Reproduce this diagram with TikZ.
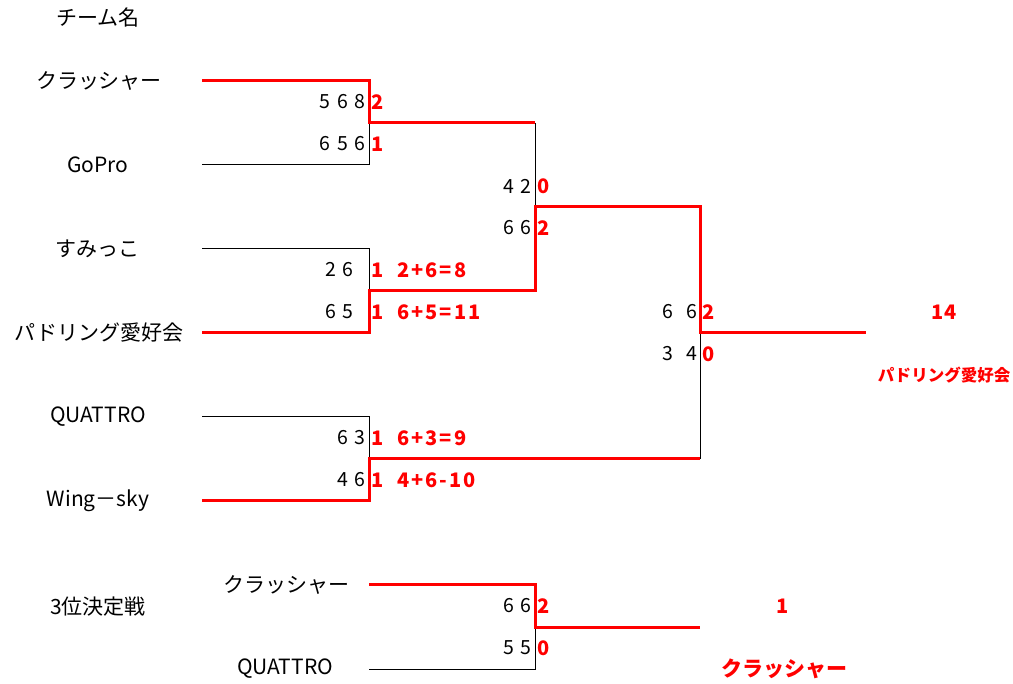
\documentclass[tikz,border=0pt]{standalone}
\usepackage{fontspec}
\setmainfont{Noto Sans CJK JP}
\newcommand\myscorefont{\fontsize{19.5}{22}\selectfont\spaceskip 7pt\relax}
\newcommand\myresfont{\fontsize{20}{22}\selectfont\bfseries\addfontfeatures{LetterSpace=10}\spaceskip 7pt\relax}
\begin{document}
\begin{tikzpicture}[x=1pt,y=-1pt,
  win/.style={draw=red, line width=3pt, line join=miter},
  lose/.style={draw=black, line width=1pt},
  team/.style={font=\fontsize{21}{24}\selectfont, inner sep=0pt},
  score/.style={font=\myscorefont, anchor=east, inner sep=0pt},
  res/.style={font=\myresfont, text=red, anchor=west, inner sep=0pt},
  big/.style={font=\fontsize{20}{24}\selectfont\bfseries, text=red, inner sep=0pt},
  small/.style={font=\fontsize{16.5}{20}\selectfont\bfseries, text=red, inner sep=0pt},
]
\useasboundingbox (0,0) rectangle (1013,684);

% headings and teams
\node[team] (head) at (98,18) {チーム名};
\node[team] (t1) at (99,81) {クラッシャー};
\node[team] (t2) at (98,165) {GoPro};
\node[team] (t3) at (98,249) {すみっこ};
\node[team] (t4) at (99,333) {パドリング愛好会};
\node[team] (t5) at (98,417) {QUATTRO};
\node[team] (t6) at (98,501) {Wing－sky};
\node[team] (third) at (98,607) {3位決定戦};
\node[team] (b1) at (286,585) {クラッシャー};
\node[team] (b2) at (285,669) {QUATTRO};

% bracket coordinates
\coordinate (s1) at (202,81);  \coordinate (s2) at (202,165);
\coordinate (s3) at (202,249); \coordinate (s4) at (202,333);
\coordinate (s5) at (202,417); \coordinate (s6) at (202,501);
\coordinate (m1) at (369,123); \coordinate (m2) at (369,291); \coordinate (m3) at (369,459);
\coordinate (q1) at (535,207);
\coordinate (f1) at (700,333);
\coordinate (fe) at (866,333);
\coordinate (u1) at (369,585); \coordinate (u2) at (369,669);
\coordinate (um) at (535,627); \coordinate (ue) at (700,627);

% losing lines (black)
\draw[lose] (s2) -| (m1);
\draw[lose] (s3) -| (m2);
\draw[lose] (s5) -| (m3);
\draw[lose] (m1 -| q1) -- (q1);
\draw[lose] (m3 -| f1) -- (f1);
\draw[lose] (u2) -| (um);

% winning lines (red)
\draw[win] (s1) -| (m1) -- (m1 -| q1);
\draw[win] (s4) -| (m2) -| (q1) -| (f1) -- (fe);
\draw[win] (s6) -| (m3) -- (m3 -| f1);
\draw[win] (u1) -| (um) -- (ue);

% round 1 scores
\node[score] (a1) at (366,102) {5 6 8};
\node[res]   (r1) at (371,102) {2};
\node[score] (a2) at (366,144) {6 5 6};
\node[res]   (r2) at (371,144) {1};
\node[score] (a3) at (354,270) {2 6};
\node[res]   (r3) at (371,270) {1\ \ 2+6=8};
\node[score] (a4) at (354,312) {6 5};
\node[res]   (r4) at (371,312) {1\ \ 6+5=11};
\node[score] (a5) at (366,438) {6 3};
\node[res]   (r5) at (371,438) {1\ \ 6+3=9};
\node[score] (a6) at (366,480) {4 6};
\node[res]   (r6) at (371,480) {1\ \ 4+6-10};

% round 2 scores
\node[score] (c1) at (532,186) {4 2};
\node[res]   (d1) at (537,186) {0};
\node[score] (c2) at (532,228) {6 6};
\node[res]   (d2) at (537,228) {2};

% final scores
\node[score] (e1) at (698,312) {6\ \ 6};
\node[res]   (g1) at (702,312) {2};
\node[score] (e2) at (698,354) {3\ \ 4};
\node[res]   (g2) at (702,354) {0};
\node[big]   (tot) at (944,312) {14};
\node[small] (champ) at (944,375) {パドリング愛好会};

% third place
\node[score] (h1) at (532,606) {6 6};
\node[res]   (k1) at (537,606) {2};
\node[score] (h2) at (532,648) {5 5};
\node[res]   (k2) at (537,648) {0};
\node[big]   (tot3) at (783,606) {1};
\node[big, font=\fontsize{21}{24}\selectfont\bfseries] (win3) at (784,669) {クラッシャー};
\end{tikzpicture}
\end{document}
